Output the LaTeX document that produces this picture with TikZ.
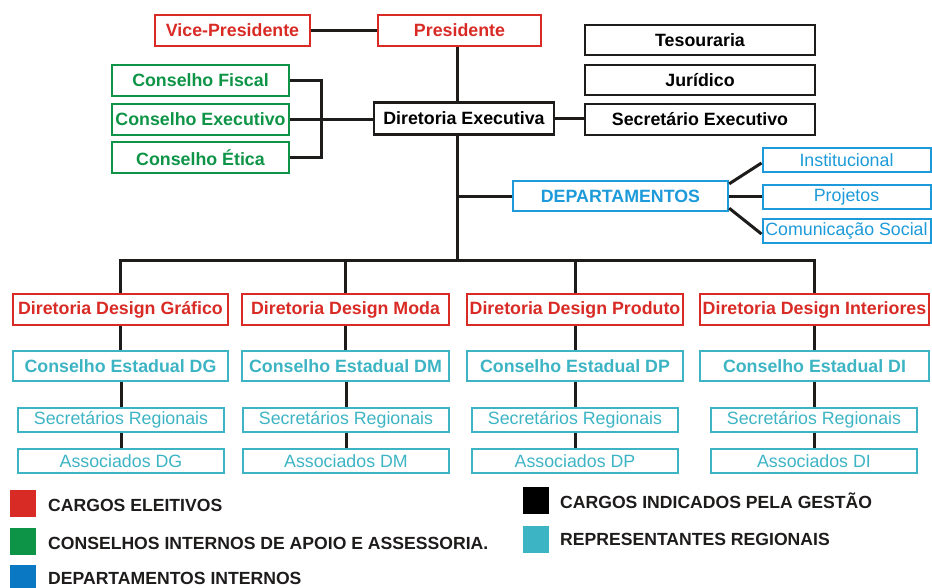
\documentclass[tikz,border=0pt]{standalone}
\usepackage{fontspec}
\setmainfont{Liberation Sans}
\usepackage{xcolor}
\usepackage{tikz}

\definecolor{eleito}{HTML}{D92B25}
\definecolor{conselho}{HTML}{0E9447}
\definecolor{depto}{HTML}{1C9AD9}
\definecolor{deptokey}{HTML}{0A78C2}
\definecolor{regional}{HTML}{3DB4C4}
\definecolor{linha}{HTML}{1E1B1B}

\begin{document}
\begin{tikzpicture}[x=1pt, y=-1pt,
    box/.style={draw, rectangle, inner sep=0pt, line width=2.4pt,
      font=\fontsize{17.8}{20}\selectfont\bfseries},
    lightbox/.style={draw, rectangle, inner sep=0pt, line width=1.6pt,
      font=\fontsize{17.8}{20}\selectfont},
    redbox/.style={box, draw=eleito, text=eleito},
    greenbox/.style={box, draw=conselho, text=conselho, minimum width=177, minimum height=31},
    blackbox/.style={box, draw=linha, text=black},
    bluebox/.style={lightbox, draw=depto, text=depto, line width=2pt, minimum width=168, minimum height=24},
    tealbox/.style={box, draw=regional, text=regional, minimum height=30},
    regbox/.style={lightbox, draw=regional, text=regional, minimum height=24},
    link/.style={draw=linha, line width=3pt},
    key/.style={rectangle, inner sep=0pt, minimum width=26, minimum height=27},
    keytext/.style={anchor=west, inner sep=0pt, text=linha,
      font=\fontsize{17.6}{19}\selectfont\bfseries}
  ]
  \useasboundingbox (0,0) rectangle (932,587);

  \node[redbox, minimum width=155, minimum height=31] (vp) at (232.5,30.5) {Vice-Presidente};
  \node[redbox, minimum width=163, minimum height=31] (pres) at (459.5,30.5) {Presidente};

  \node[blackbox, minimum width=230, minimum height=30] (tes) at (700,40) {Tesouraria};
  \node[blackbox, minimum width=230, minimum height=30] (jur) at (700,80) {Jurídico};
  \node[blackbox, minimum width=230, minimum height=31] (sec) at (700,119.5) {Secretário Executivo};
  \node[blackbox, minimum width=180, minimum height=32] (de) at (464,118.5) {Diretoria Executiva};

  \node[greenbox] (cf) at (200.5,80.5) {Conselho Fiscal};
  \node[greenbox] (ce) at (200.5,119.5) {Conselho Executivo};
  \node[greenbox] (cet) at (200.5,157.5) {Conselho Ética};

  \node[box, draw=depto, text=depto, minimum width=215, minimum height=30] (dep) at (620.5,196) {DEPARTAMENTOS};
  \node[bluebox] (inst) at (846.5,160) {Institucional};
  \node[bluebox] (proj) at (846.5,197) {Projetos};
  \node[bluebox] (com) at (846.5,231) {Comunicação Social};

  \node[redbox, minimum width=215, minimum height=31] (d1) at (120.5,309.5) {Diretoria Design Gráfico};
  \node[redbox, minimum width=207, minimum height=31] (d2) at (345.5,309.5) {Diretoria Design Moda};
  \node[redbox, minimum width=216, minimum height=31] (d3) at (575,309.5) {Diretoria Design Produto};
  \node[redbox, minimum width=229, minimum height=31] (d4) at (814.5,309.5) {Diretoria Design Interiores};

  \node[tealbox, minimum width=215] (c1) at (120.5,366) {Conselho Estadual DG};
  \node[tealbox, minimum width=207] (c2) at (345.5,366) {Conselho Estadual DM};
  \node[tealbox, minimum width=216] (c3) at (575,366) {Conselho Estadual DP};
  \node[tealbox, minimum width=229] (c4) at (814.5,366) {Conselho Estadual DI};

  \node[regbox, minimum width=206] (s1) at (121,420) {Secretários Regionais};
  \node[regbox, minimum width=206] (s2) at (346,420) {Secretários Regionais};
  \node[regbox, minimum width=206] (s3) at (575,420) {Secretários Regionais};
  \node[regbox, minimum width=206] (s4) at (814,420) {Secretários Regionais};

  \node[regbox, minimum width=206] (a1) at (121,461) {Associados DG};
  \node[regbox, minimum width=206] (a2) at (346,461) {Associados DM};
  \node[regbox, minimum width=206] (a3) at (575,461) {Associados DP};
  \node[regbox, minimum width=206] (a4) at (814,461) {Associados DI};

  \coordinate (trunk) at (457,0);
  \coordinate (brace) at (321,0);
  \coordinate (bus) at (0,260);

  \draw[link] (vp) -- (pres);
  \draw[link] (trunk |- pres.south) -- (trunk |- de.north);
  \draw[link] (de.east) -- (de.east -| sec.west);
  \draw[link] (ce.east) -- (ce.east -| de.west);
  \draw[link] (cf.east) -| (brace |- cet.east) -- (cet.east);
  \draw[link] (trunk |- de.south) -- (trunk |- bus);
  \draw[link] (trunk |- dep.west) -- (dep.west);
  \draw[link] ([yshift=-4pt]dep.north east) -- ([yshift=-3pt]inst.west);
  \draw[link] (dep.east) -- (dep.east -| proj.west);
  \draw[link] ([yshift=4pt]dep.south east) -- ([yshift=-3pt]com.west);

  \draw[link] (d1.north) |- (d4.north |- bus) -- (d4.north);
  \draw[link] (d2.north) -- (d2.north |- bus);
  \draw[link] (d3.north) -- (d3.north |- bus);

  \draw[link] (d1.south) -- (d1.south |- c1.north);
  \draw[link] (d2.south) -- (d2.south |- c2.north);
  \draw[link] (d3.south) -- (d3.south |- c3.north);
  \draw[link] (d4.south) -- (d4.south |- c4.north);
  \draw[link] (s1.north |- c1.south) -- (s1.north);
  \draw[link] (s2.north |- c2.south) -- (s2.north);
  \draw[link] (s3.north |- c3.south) -- (s3.north);
  \draw[link] (s4.north |- c4.south) -- (s4.north);
  \draw[link] (s1.south) -- (a1.north);
  \draw[link] (s2.south) -- (a2.north);
  \draw[link] (s3.south) -- (a3.north);
  \draw[link] (s4.south) -- (a4.north);

  \node[key, fill=eleito] (kel) at (23,503.5) {};
  \node[keytext] (tel) at (48,505) {CARGOS ELEITIVOS};
  \node[key, fill=conselho] (kco) at (23,541.5) {};
  \node[keytext] (tco) at (48,543) {CONSELHOS INTERNOS DE APOIO E ASSESSORIA.};
  \node[key, fill=deptokey] (kde) at (23,578.5) {};
  \node[keytext] (tde) at (48,578.5) {DEPARTAMENTOS INTERNOS};
  \node[key, fill=black] (kin) at (535.5,500) {};
  \node[keytext] (tin) at (560,501) {CARGOS INDICADOS PELA GESTÃO};
  \node[key, fill=regional] (kre) at (535.5,539) {};
  \node[keytext] (tre) at (560,539) {REPRESENTANTES REGIONAIS};
\end{tikzpicture}
\end{document}
